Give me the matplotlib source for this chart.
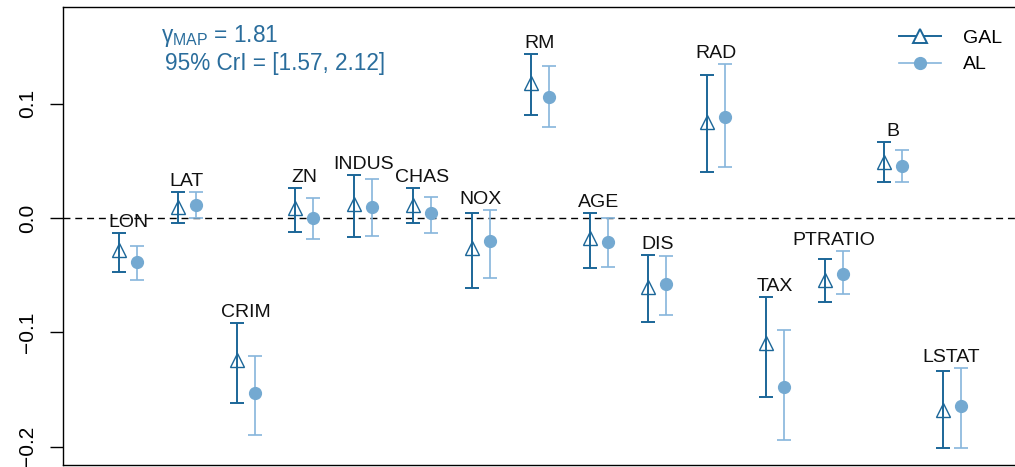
import matplotlib as mpl
import matplotlib.pyplot as plt
import numpy as np
from matplotlib.lines import Line2D

mpl.use("Agg")

mpl.rcParams.update(
    {
        "font.family": "sans-serif",
        "font.sans-serif": ["Liberation Sans", "DejaVu Sans"],
        "mathtext.fontset": "custom",
        "mathtext.rm": "Liberation Sans",
        "mathtext.it": "Liberation Sans:italic",
        "font.size": 14,
        "axes.linewidth": 1.0,
    }
)

COL = {
    "gal": "#1b6698",
    "al_mark": "#74a9d1",
    "al_bar": "#86b5db",
    "text": "#2a6d9c",
    "ink": "#111111",
}

labels = ["LON", "LAT", "CRIM", "ZN", "INDUS", "CHAS", "NOX", "RM",
          "AGE", "DIS", "RAD", "TAX", "PTRATIO", "B", "LSTAT"]

gal_est = [-0.0280, 0.0096, -0.1240, 0.0087, 0.0122, 0.0114, -0.0262, 0.1180,
           -0.0175, -0.0604, 0.0840, -0.1090, -0.0542, 0.0490, -0.1680]
gal_lo = [-0.0472, -0.0044, -0.1620, -0.0122, -0.0166, -0.0044, -0.0612, 0.0901,
          -0.0437, -0.0910, 0.0402, -0.1566, -0.0735, 0.0315, -0.2010]
gal_hi = [-0.0131, 0.0227, -0.0919, 0.0262, 0.0376, 0.0262, 0.0044, 0.1435,
          0.0044, -0.0324, 0.1251, -0.0691, -0.0359, 0.0665, -0.1340]

al_est = [-0.0385, 0.0114, -0.1530, 0.0000, 0.0096, 0.0044, -0.0201, 0.1059,
          -0.0210, -0.0577, 0.0884, -0.1480, -0.0490, 0.0455, -0.1645]
al_lo = [-0.0542, 0.0000, -0.1900, -0.0184, -0.0157, -0.0131, -0.0525, 0.0796,
         -0.0429, -0.0849, 0.0446, -0.1940, -0.0665, 0.0315, -0.2010]
al_hi = [-0.0245, 0.0227, -0.1210, 0.0175, 0.0341, 0.0184, 0.0070, 0.1330,
         0.0000, -0.0332, 0.1347, -0.0980, -0.0289, 0.0595, -0.1310]

gamma_map = 1.81
gamma_cri = (1.57, 2.12)


def asym_err(est, lo, hi):
    est, lo, hi = map(np.asarray, (est, lo, hi))
    return np.vstack([est - lo, hi - est])


fig = plt.figure(figsize=(10.15, 4.67), dpi=100)
ax = fig.add_axes([63 / 1015, 2 / 467, 955 / 1015, 458 / 467])

x = np.arange(len(labels))
off = 0.153

ax.axhline(0, color="black", linewidth=1.0, linestyle=(0, (5, 3.5)), zorder=1)

ax.errorbar(x - off, gal_est, yerr=asym_err(gal_est, gal_lo, gal_hi), fmt="^",
            color=COL["gal"], ecolor=COL["gal"], elinewidth=1.4, capsize=5.2,
            capthick=1.4, markersize=10, markerfacecolor="none",
            markeredgecolor=COL["gal"], zorder=3)
ax.errorbar(x + off, al_est, yerr=asym_err(al_est, al_lo, al_hi), fmt="o",
            color=COL["al_mark"], ecolor=COL["al_bar"], elinewidth=1.2, capsize=5.2,
            capthick=1.2, markersize=8.5, markeredgecolor=COL["al_mark"], zorder=3)

# variable names just above the highest interval end
for i, name in enumerate(labels):
    top = max(gal_hi[i], al_hi[i])
    ax.annotate(name, (x[i], top), xytext=(0, 4.3), textcoords="offset points",
                ha="center", va="baseline", fontsize=14, color=COL["ink"])

ax.text(0.1028, 0.9236, r"γ$_{\rm MAP}$ = " + f"{gamma_map:.2f}", transform=ax.transAxes,
        ha="left", va="baseline", fontsize=16.3, color=COL["text"])
ax.text(0.107, 0.862, f"95% CrI = [{gamma_cri[0]:.2f}, {gamma_cri[1]:.2f}]",
        transform=ax.transAxes, ha="left", va="baseline", fontsize=16.3, color=COL["text"])

handles = [
    Line2D([], [], color=COL["gal"], marker="^", markersize=10, markerfacecolor="white",
           markeredgewidth=1.4, linewidth=1.4),
    Line2D([], [], color=COL["al_bar"], marker="o", markersize=8.5,
           markerfacecolor=COL["al_mark"], markeredgecolor=COL["al_mark"], linewidth=1.2),
]
ax.legend(handles, ["GAL", "AL"], loc="upper left", bbox_to_anchor=(0.875, 0.951),
          frameon=False, borderpad=0, borderaxespad=0, handlelength=2.2,
          handletextpad=1.1, labelspacing=0.45, fontsize=14)

ax.set_xlim(-1.105, 15.13)
ax.set_ylim(-0.2161, 0.1846)
ax.set_xticks([])
ax.set_yticks([-0.2, -0.1, 0.0, 0.1])
ax.set_yticklabels(["−0.2", "−0.1", "0.0", "0.1"])
ax.tick_params(axis="y", length=9.5, width=1.0, pad=9, labelsize=15, labelrotation=90)
for lab in ax.get_yticklabels():
    lab.set_va("center")

fig.savefig("out.png", dpi=100)
